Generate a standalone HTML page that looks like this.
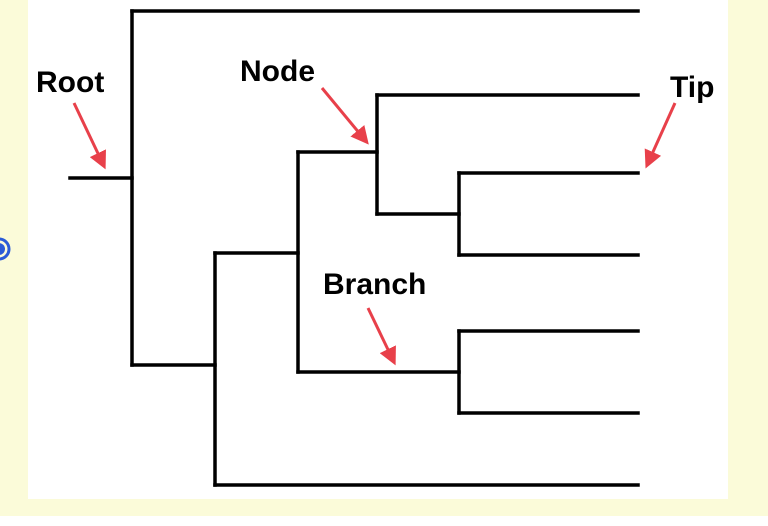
<!DOCTYPE html>
<html><head><style>
html,body{margin:0;padding:0;width:768px;height:526px;overflow:hidden;background:#fff;}
</style></head><body>
<svg width="768" height="526" xmlns="http://www.w3.org/2000/svg" style="position:absolute;left:0;top:0">
<rect x="0" y="0" width="768" height="516" fill="#fbfbd9"/>
<rect x="28" y="0" width="700" height="499" fill="#fff"/>
<circle cx="-1" cy="249" r="10" fill="none" stroke="#2a5bd7" stroke-width="3"/>
<circle cx="-1" cy="249" r="6" fill="#2a5bd7"/>
<g stroke="#000" stroke-width="3.5" fill="none" stroke-linecap="square">
<line x1="70" y1="178" x2="132" y2="178"/>
<line x1="132" y1="11" x2="132" y2="365"/>
<line x1="132" y1="11" x2="638" y2="11"/>
<line x1="132" y1="365" x2="215" y2="365"/>
<line x1="215" y1="253" x2="215" y2="485"/>
<line x1="215" y1="485" x2="638" y2="485"/>
<line x1="215" y1="253" x2="298" y2="253"/>
<line x1="298" y1="152" x2="298" y2="372"/>
<line x1="298" y1="152" x2="377" y2="152"/>
<line x1="377" y1="95" x2="377" y2="214"/>
<line x1="377" y1="95" x2="638" y2="95"/>
<line x1="377" y1="214" x2="459" y2="214"/>
<line x1="459" y1="173" x2="459" y2="255"/>
<line x1="459" y1="173" x2="638" y2="173"/>
<line x1="459" y1="255" x2="638" y2="255"/>
<line x1="298" y1="372" x2="459" y2="372"/>
<line x1="459" y1="331" x2="459" y2="413"/>
<line x1="459" y1="331" x2="638" y2="331"/>
<line x1="459" y1="413" x2="638" y2="413"/>
</g>
<defs><marker id="a" markerWidth="6" markerHeight="6" refX="4" refY="3" orient="auto" markerUnits="strokeWidth"><path d="M0,0 L6,3 L0,6 z" fill="#e8404a"/></marker></defs>
<g stroke="#e8404a" stroke-width="3" marker-end="url(#a)">
<line x1="74" y1="103" x2="103" y2="164"/>
<line x1="322" y1="88" x2="365" y2="140"/>
<line x1="675" y1="103" x2="648" y2="163"/>
<line x1="368" y1="308" x2="393" y2="360"/>
</g>
<g font-family="Liberation Sans, sans-serif" font-weight="bold" font-size="30" fill="#000">
<text x="36" y="92">Root</text>
<text x="240" y="81">Node</text>
<text x="670" y="97">Tip</text>
<text x="323" y="294">Branch</text>
</g>
</svg>
</body></html>
